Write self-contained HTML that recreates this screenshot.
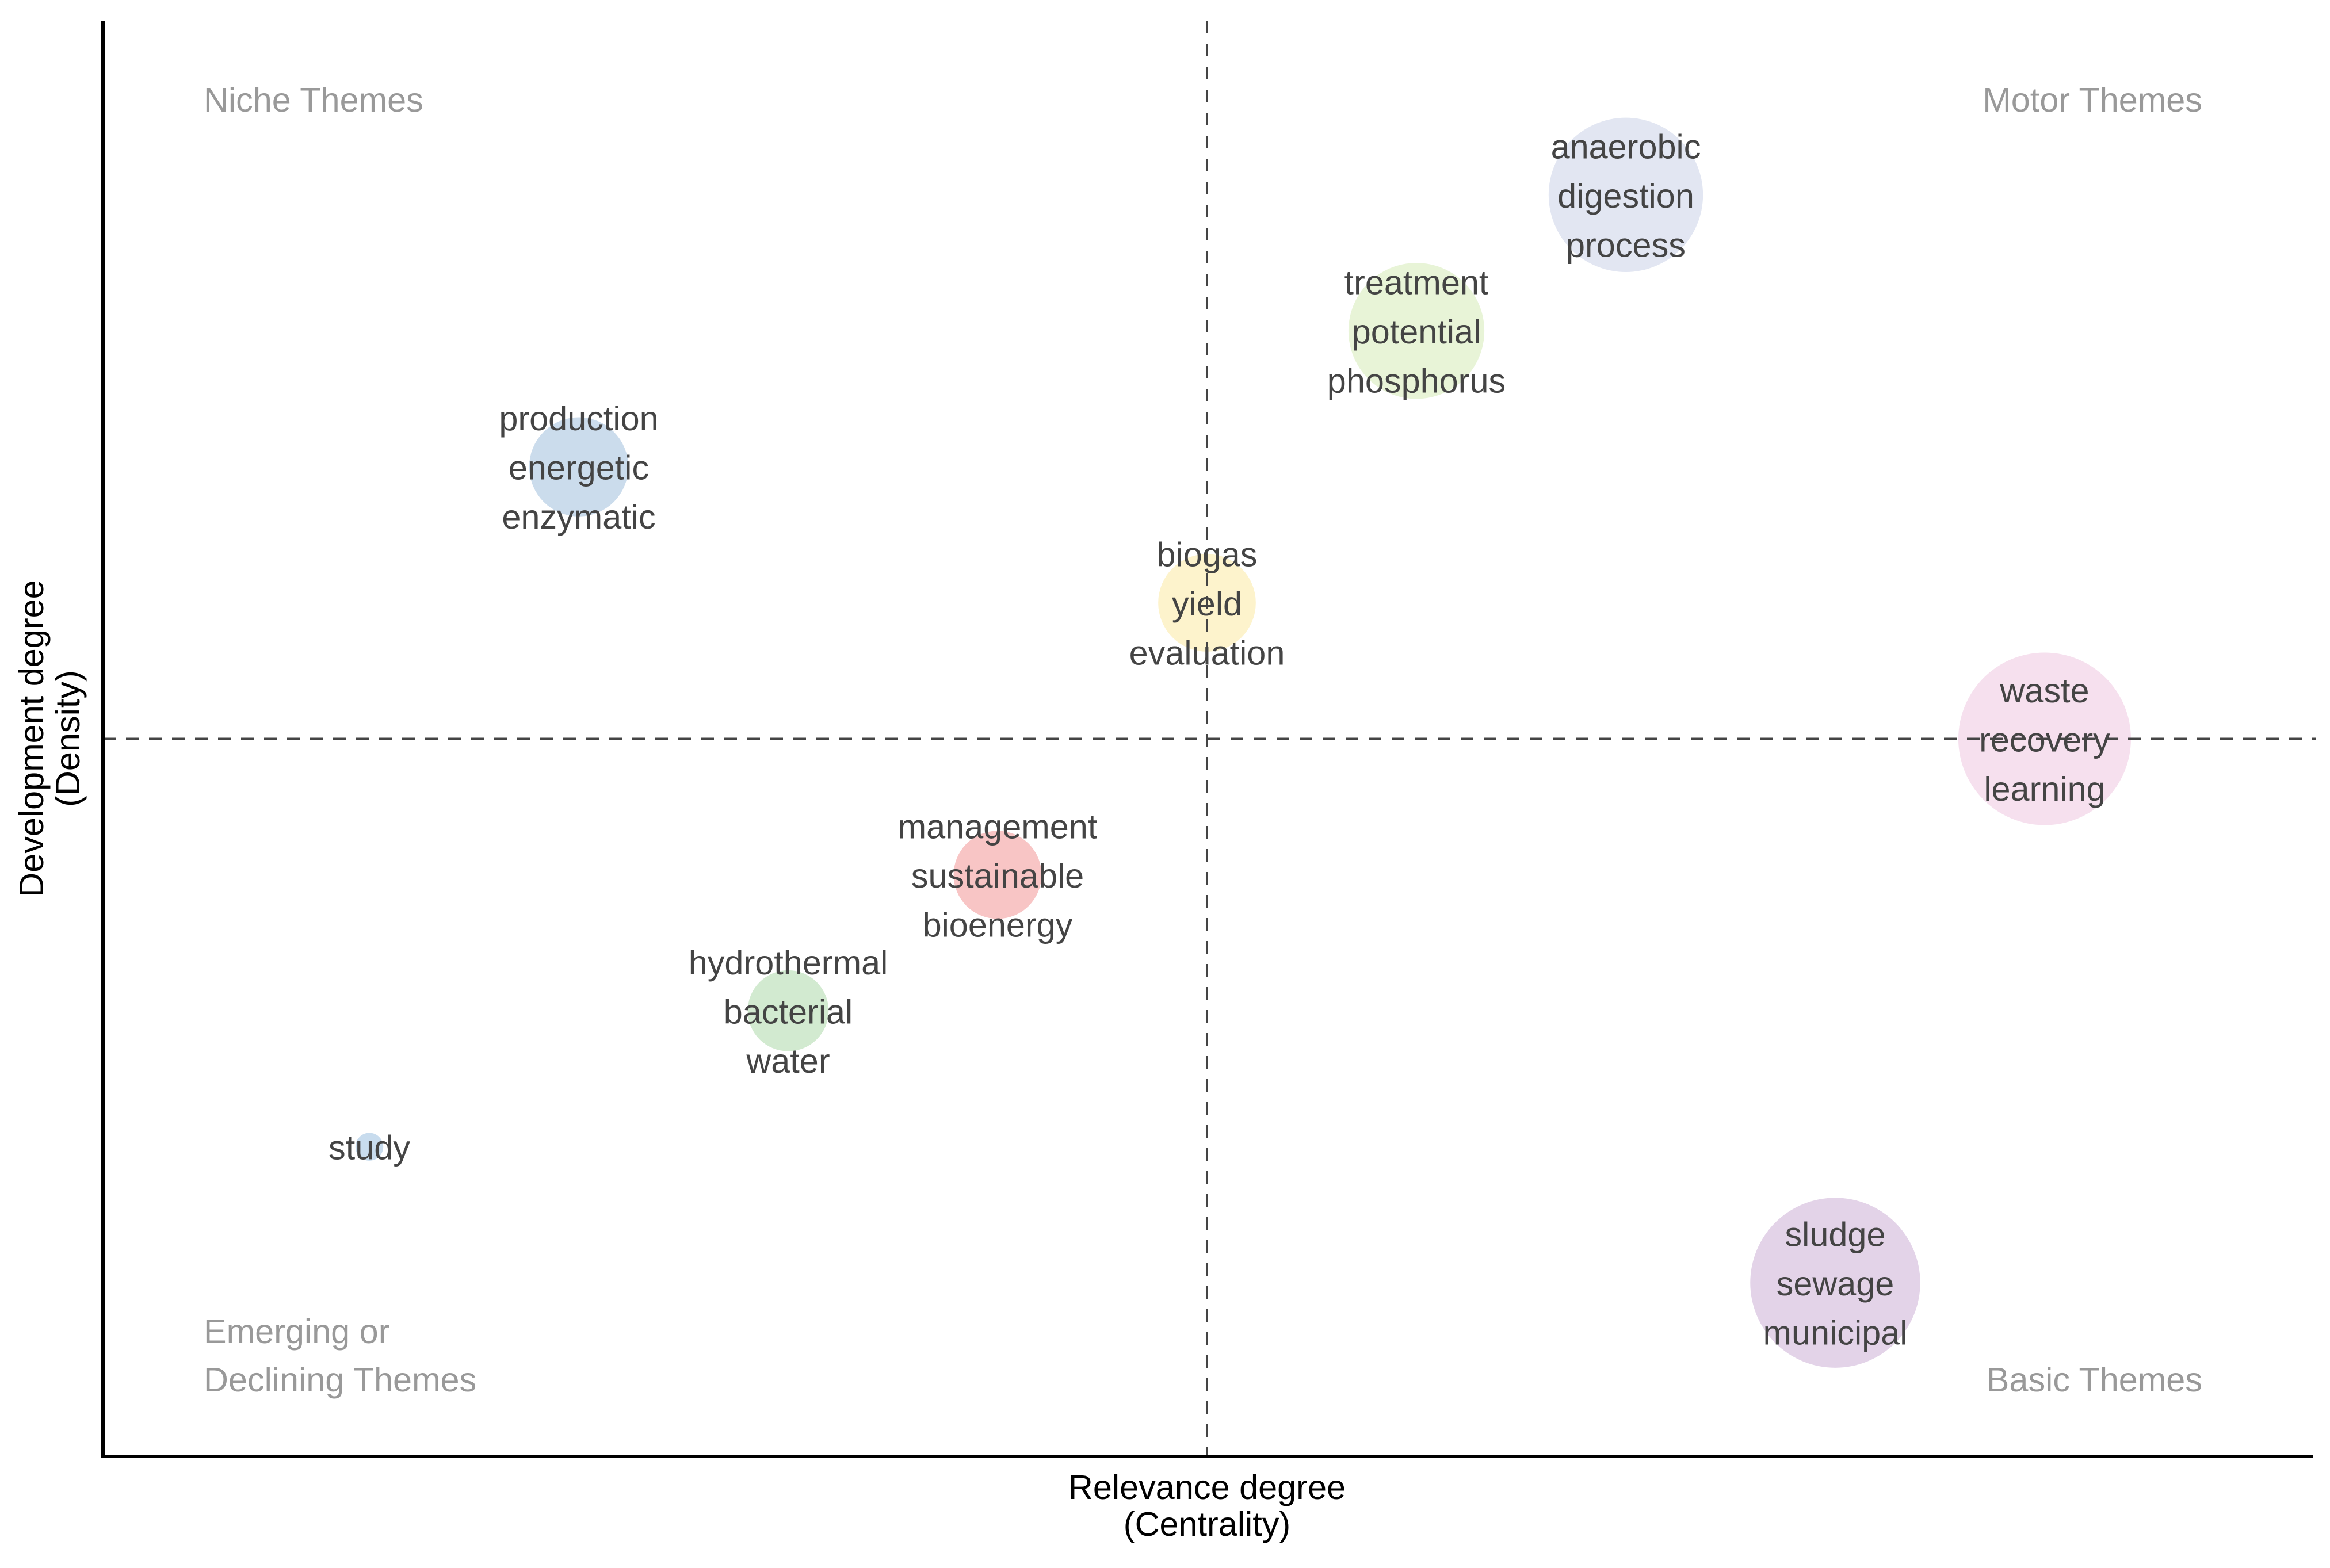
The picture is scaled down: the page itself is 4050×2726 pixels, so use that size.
<!DOCTYPE html>
<html lang="en">
<head>
<meta charset="utf-8">
<title>Thematic map</title>
<style>
html,body{margin:0;padding:0;background:#fff;}
svg{display:block;}
text{font-family:"Liberation Sans",Arial,sans-serif;font-size:59.4px;}
.axis-title{fill:#000;text-anchor:middle;}
.quadrant{fill:#999;}
.cluster-label{fill:#444;text-anchor:middle;}
</style>
</head>
<body>
<svg id="chart" xmlns="http://www.w3.org/2000/svg" width="4050" height="2726" viewBox="0 0 4050 2726">
  <rect x="0" y="0" width="4050" height="2726" fill="#ffffff"/>
  <g id="bubbles"></g>
  <g id="guides"></g>
  <g id="axes"></g>
  <g id="labels"></g>

  <text class="quadrant" x="354" y="194">Niche Themes</text>
  <text class="quadrant" x="3828" y="194" text-anchor="end">Motor Themes</text>
  <text class="quadrant" x="354" y="2335">Emerging or</text>
  <text class="quadrant" x="354" y="2419">Declining Themes</text>
  <text class="quadrant" x="3828" y="2419" text-anchor="end">Basic Themes</text>

  <text class="axis-title" x="2098" y="2606">Relevance degree</text>
  <text class="axis-title" x="2098" y="2670">(Centrality)</text>
  <text class="axis-title" transform="translate(75,1284) rotate(-90)">Development degree</text>
  <text class="axis-title" transform="translate(138,1284) rotate(-90)">(Density)</text>
</svg>
<script>
// Cluster data (rank-based centrality and density)
const clusterNames = ["study", "production", "hydrothermal", "management", "biogas", "treatment", "anaerobic", "sludge", "waste"];
const clusterTerms = [
  ["study"],
  ["production", "energetic", "enzymatic"],
  ["hydrothermal", "bacterial", "water"],
  ["management", "sustainable", "bioenergy"],
  ["biogas", "yield", "evaluation"],
  ["treatment", "potential", "phosphorus"],
  ["anaerobic", "digestion", "process"],
  ["sludge", "sewage", "municipal"],
  ["waste", "recovery", "learning"]
];
const centrality = [1, 2, 3, 4, 5, 6, 7, 8, 9];
const density = [2, 7, 3, 4, 6, 8, 9, 1, 5];
const clusterSize = [2.6, 33, 22, 26, 32, 62, 80, 97, 100];
const clusterColors = ["#c8dcee", "#cbdcec", "#d2ead0", "#f8c5c5", "#fdf3cc", "#e8f4d7", "#e2e6f2", "#e3d3e8", "#f6e0ee"];
const medianCentrality = 5;
const medianDensity = 5;
const xDomain = [-0.272, 10.283];
const yDomain = [-0.277, 10.281];

const SVG_NS = "http://www.w3.org/2000/svg";
const plot = {left: 179, right: 4021, top: 36, bottom: 2532};

function xScale(v) {
  return plot.left + (v - xDomain[0]) / (xDomain[1] - xDomain[0]) * (plot.right - plot.left);
}
function yScale(v) {
  return plot.bottom - (v - yDomain[0]) / (yDomain[1] - yDomain[0]) * (plot.bottom - plot.top);
}
function rScale(v) {
  return 15 * Math.sqrt(v);
}
function slug(s) {
  return s.toLowerCase().replace(/[^a-z0-9]+/g, "-");
}

const bubbleLayer = document.getElementById("bubbles");
const labelLayer = document.getElementById("labels");
const guideLayer = document.getElementById("guides");
const axisLayer = document.getElementById("axes");

clusterNames.forEach(function (name, i) {
  const cx = xScale(centrality[i]);
  const cy = yScale(density[i]);

  const circle = document.createElementNS(SVG_NS, "circle");
  circle.setAttribute("cx", cx);
  circle.setAttribute("cy", cy);
  circle.setAttribute("r", rScale(clusterSize[i]));
  circle.setAttribute("fill", clusterColors[i]);
  
  
  bubbleLayer.appendChild(circle);

  const terms = clusterTerms[i];
  const lineGap = 85.5;
  const firstOffset = -((terms.length - 1) / 2) * lineGap;
  terms.forEach(function (term, j) {
    const t = document.createElementNS(SVG_NS, "text");
    t.setAttribute("class", "cluster-label");
    t.setAttribute("x", cx);
    t.setAttribute("y", cy + firstOffset + j * lineGap + 22);
    
    
    t.textContent = term;
    labelLayer.appendChild(t);
  });
});

const vGuide = document.createElementNS(SVG_NS, "line");
vGuide.setAttribute("x1", xScale(medianCentrality));
vGuide.setAttribute("x2", xScale(medianCentrality));
vGuide.setAttribute("y1", plot.top);
vGuide.setAttribute("y2", plot.bottom);
vGuide.setAttribute("stroke", "#444");
vGuide.setAttribute("stroke-width", "4");
vGuide.setAttribute("stroke-dasharray", "22 18");


guideLayer.appendChild(vGuide);

const hGuide = document.createElementNS(SVG_NS, "line");
hGuide.setAttribute("x1", plot.left);
hGuide.setAttribute("x2", plot.right + 5);
hGuide.setAttribute("y1", yScale(medianDensity));
hGuide.setAttribute("y2", yScale(medianDensity));
hGuide.setAttribute("stroke", "#444");
hGuide.setAttribute("stroke-width", "4");
hGuide.setAttribute("stroke-dasharray", "22 18");


guideLayer.appendChild(hGuide);

const yAxis = document.createElementNS(SVG_NS, "line");
yAxis.setAttribute("x1", plot.left);
yAxis.setAttribute("x2", plot.left);
yAxis.setAttribute("y1", plot.top);
yAxis.setAttribute("y2", plot.bottom + 3);
yAxis.setAttribute("stroke", "#000");
yAxis.setAttribute("stroke-width", "6");


axisLayer.appendChild(yAxis);

const xAxis = document.createElementNS(SVG_NS, "line");
xAxis.setAttribute("x1", plot.left - 3);
xAxis.setAttribute("x2", plot.right);
xAxis.setAttribute("y1", plot.bottom);
xAxis.setAttribute("y2", plot.bottom);
xAxis.setAttribute("stroke", "#000");
xAxis.setAttribute("stroke-width", "6");


axisLayer.appendChild(xAxis);
</script>
</body>
</html>
